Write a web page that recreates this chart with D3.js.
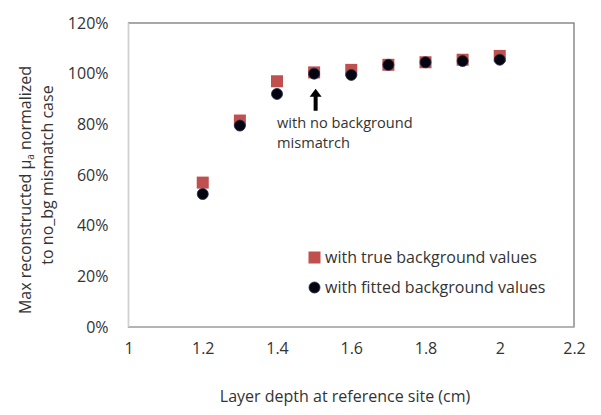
<!DOCTYPE html>
<html>
<head>
<meta charset="utf-8">
<script src="https://cdn.jsdelivr.net/npm/d3@7"></script>
<style>
  body { margin: 0; background: #fff; }
  text { font-family: "Open Sans", "Noto Sans", sans-serif; fill: #333; }
</style>
</head>
<body>
<script>
// layer depths (cm)
var depths = [1.2, 1.3, 1.4, 1.5, 1.6, 1.7, 1.8, 1.9, 2.0];
// max reconstructed mua normalized (%)
var trueBg = [57, 81.5, 97, 100.5, 101.5, 103.5, 104.5, 105.5, 107];
var fittedBg = [52.5, 79.5, 92, 100, 99.5, 103.5, 104.5, 105, 105.5];
var xTicks = [1, 1.2, 1.4, 1.6, 1.8, 2, 2.2];
var yTicks = [0, 20, 40, 60, 80, 100, 120];

var width = 601, height = 415;
var margin = { left: 128.5, right: 27, top: 23, bottom: 88 };
var fs = "16px";

var svg = d3.select("body").append("svg")
    .attr("width", width)
    .attr("height", height);

var x = d3.scaleLinear().domain([1, 2.2]).range([margin.left, width - margin.right]);
var y = d3.scaleLinear().domain([0, 120]).range([height - margin.bottom, margin.top]);

// plot area border
svg.append("rect")
    .attr("x", x(1)).attr("y", y(120))
    .attr("width", x(2.2) - x(1)).attr("height", y(0) - y(120))
    .attr("fill", "none").attr("stroke", "#6e6e6e").attr("stroke-width", 1.2);

// axis lines (light gray)
svg.append("line").attr("x1", x(1)).attr("x2", x(2.2)).attr("y1", y(0)).attr("y2", y(0))
    .attr("stroke", "#bfbfbf").attr("stroke-width", 1.2);
svg.append("line").attr("x1", x(1)).attr("x2", x(1)).attr("y1", y(0)).attr("y2", y(120))
    .attr("stroke", "#d0d0d0").attr("stroke-width", 1.2);

// tick labels
var xAxis = svg.append("g")
    .attr("transform", "translate(0," + (y(0) + 13) + ")")
    .call(d3.axisBottom(x).tickValues(xTicks).tickSize(0).tickFormat(d3.format("")));
xAxis.select(".domain").remove();
xAxis.selectAll("text").style("font-size", fs);

var yAxis = svg.append("g")
    .attr("transform", "translate(" + (x(1) - 17) + ",0)")
    .call(d3.axisLeft(y).tickValues(yTicks).tickSize(0).tickFormat(function (d) { return d + "%"; }));
yAxis.select(".domain").remove();
yAxis.selectAll("text").style("font-size", fs);

// series: true background values (squares)
var sq = 12;
svg.append("g").selectAll("rect")
    .data(depths.map(function (d, i) { return [d, trueBg[i]]; }))
    .enter().append("rect")
    .attr("x", function (d) { return x(d[0]) - sq / 2; })
    .attr("y", function (d) { return y(d[1]) - sq / 2; })
    .attr("width", sq).attr("height", sq)
    .attr("fill", "#c0504d");

// series: fitted background values (circles)
svg.append("g").selectAll("circle")
    .data(depths.map(function (d, i) { return [d, fittedBg[i]]; }))
    .enter().append("circle")
    .attr("cx", function (d) { return x(d[0]); })
    .attr("cy", function (d) { return y(d[1]); })
    .attr("r", 5.5)
    .attr("fill", "#05050f")
    .attr("stroke", "#1f2a50").attr("stroke-width", 0.8);

// annotation arrow
var ax = x(1.5) + 1.5, ay = y(100) + 15;
svg.append("path")
    .attr("d", "M" + (ax - 2) + "," + (ay + 22) + "V" + (ay + 8) + "H" + (ax - 6) +
        "L" + ax + "," + ay + "L" + (ax + 6) + "," + (ay + 8) + "H" + (ax + 2) + "V" + (ay + 22) + "Z")
    .attr("fill", "#000");

var note = svg.append("text")
    .attr("x", 277).attr("y", 128)
    .style("font-size", "14.6px");
note.append("tspan").attr("x", 277).text("with no background");
note.append("tspan").attr("x", 277).attr("dy", 20).text("mismatrch");

// legend
var lg = svg.append("g");
lg.append("rect").attr("x", 308.5).attr("y", 251.5).attr("width", sq).attr("height", sq).attr("fill", "#c0504d");
lg.append("circle").attr("cx", 314.5).attr("cy", 287.5).attr("r", 5.5)
    .attr("fill", "#05050f").attr("stroke", "#1f2a50").attr("stroke-width", 0.8);
lg.append("text").attr("x", 325).attr("y", 263).style("font-size", fs).text("with true background values");
lg.append("text").attr("x", 325).attr("y", 293).style("font-size", fs).text("with fitted background values");

// axis titles
svg.append("text")
    .attr("x", 345).attr("y", 402)
    .attr("text-anchor", "middle")
    .style("font-size", fs)
    .text("Layer depth at reference site (cm)");

var yt1 = svg.append("text")
    .attr("transform", "translate(31,190) rotate(-90)")
    .attr("text-anchor", "middle")
    .style("font-size", fs);
yt1.append("tspan").text("Max reconstructed  \u03bc");
yt1.append("tspan").attr("dy", 3).style("font-size", "10px").text("a");
yt1.append("tspan").attr("dy", -3).text("   normalized");

svg.append("text")
    .attr("transform", "translate(53,175) rotate(-90)")
    .attr("text-anchor", "middle")
    .style("font-size", fs)
    .text("to no_bg mismatch case");
</script>
</body>
</html>
